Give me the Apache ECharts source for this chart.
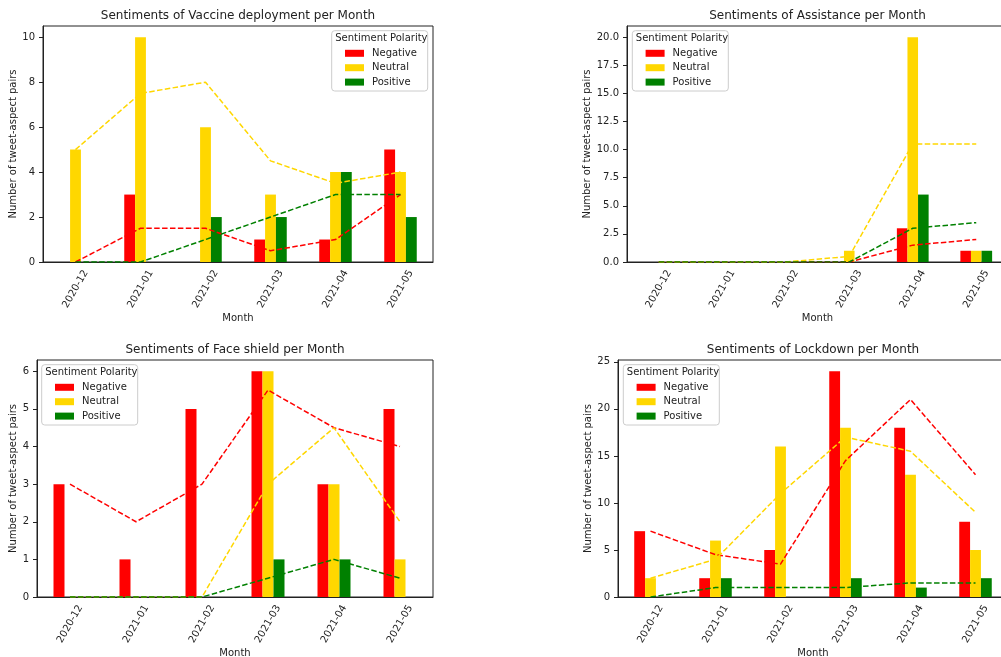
<!DOCTYPE html>
<html>
<head>
<meta charset="utf-8">
<script src="https://cdn.jsdelivr.net/npm/echarts@6/dist/echarts.min.js"></script>
<style>
  html, body { margin: 0; padding: 0; background: #fff; }
  #main { width: 1001px; height: 657px; }
</style>
</head>
<body>
<div id="main"></div>
<script>
// months on the x axis (shared by all four panels)
var months = ['2020-12', '2021-01', '2021-02', '2021-03', '2021-04', '2021-05'];

// Vaccine deployment
var vaccineNeg = [0, 3, 0, 1, 1, 5];
var vaccineNeu = [5, 10, 6, 3, 4, 4];
var vaccinePos = [0, 0, 2, 2, 4, 2];
var vaccineNegTrend = [0, 1.5, 1.5, 0.5, 1, 3];
var vaccineNeuTrend = [5, 7.5, 8, 4.5, 3.5, 4];
var vaccinePosTrend = [0, 0, 1, 2, 3, 3];
var vaccineTicks = [0, 2, 4, 6, 8, 10];

// Assistance
var assistNeg = [0, 0, 0, 0, 3, 1];
var assistNeu = [0, 0, 0, 1, 20, 1];
var assistPos = [0, 0, 0, 0, 6, 1];
var assistNegTrend = [0, 0, 0, 0, 1.5, 2];
var assistNeuTrend = [0, 0, 0, 0.5, 10.5, 10.5];
var assistPosTrend = [0, 0, 0, 0, 3, 3.5];
var assistTicks = [0, 2.5, 5, 7.5, 10, 12.5, 15, 17.5, 20];

// Face shield
var shieldNeg = [3, 1, 5, 6, 3, 5];
var shieldNeu = [0, 0, 0, 6, 3, 1];
var shieldPos = [0, 0, 0, 1, 1, 0];
var shieldNegTrend = [3, 2, 3, 5.5, 4.5, 4];
var shieldNeuTrend = [0, 0, 0, 3, 4.5, 2];
var shieldPosTrend = [0, 0, 0, 0.5, 1, 0.5];
var shieldTicks = [0, 1, 2, 3, 4, 5, 6];

// Lockdown
var lockNeg = [7, 2, 5, 24, 18, 8];
var lockNeu = [2, 6, 16, 18, 13, 5];
var lockPos = [0, 2, 0, 2, 1, 2];
var lockNegTrend = [7, 4.5, 3.5, 14.5, 21, 13];
var lockNeuTrend = [2, 4, 11, 17, 15.5, 9];
var lockPosTrend = [0, 1, 1, 1, 1.5, 1.5];
var lockTicks = [0, 5, 10, 15, 20, 25];

var colors = { Negative: '#ff0000', Neutral: '#ffd700', Positive: '#008000' };
var FONT = 'DejaVu Sans';

var panels = [
  { title: 'Sentiments of Vaccine deployment per Month', grid: { left: 43, top: 26, width: 390, height: 236 },
    max: 10.5, ticks: vaccineTicks, dec: 0, nameGap: 24,
    bars: [vaccineNeg, vaccineNeu, vaccinePos], trends: [vaccineNegTrend, vaccineNeuTrend, vaccinePosTrend],
    legendBox: [331.7, 30.7] },
  { title: 'Sentiments of Assistance per Month', grid: { left: 627, top: 26, width: 381, height: 236 },
    max: 21, ticks: assistTicks, dec: 1, nameGap: 33,
    bars: [assistNeg, assistNeu, assistPos], trends: [assistNegTrend, assistNeuTrend, assistPosTrend],
    legendBox: [632.3, 30.7] },
  { title: 'Sentiments of Face shield per Month', grid: { left: 37, top: 360, width: 396, height: 237 },
    max: 6.3, ticks: shieldTicks, dec: 0, nameGap: 18,
    bars: [shieldNeg, shieldNeu, shieldPos], trends: [shieldNegTrend, shieldNeuTrend, shieldPosTrend],
    legendBox: [41.7, 364.7] },
  { title: 'Sentiments of Lockdown per Month', grid: { left: 618, top: 360, width: 390, height: 237 },
    max: 25.2, ticks: lockTicks, dec: 0, nameGap: 24,
    bars: [lockNeg, lockNeu, lockPos], trends: [lockNegTrend, lockNeuTrend, lockPosTrend],
    legendBox: [623.3, 364.7] }
];

var names = ['Negative', 'Neutral', 'Positive'];
var grids = [], xAxes = [], yAxes = [], series = [], legends = [], graphics = [];

panels.forEach(function (p, i) {
  // right-hand panels run past the edge of the page, as in the original figure
  grids.push(Object.assign({ show: true, borderColor: '#222', borderWidth: 1, backgroundColor: 'transparent',
    outerBoundsMode: 'none', containLabel: false }, p.grid));

  xAxes.push({
    type: 'category', gridIndex: i, data: months, boundaryGap: true,
    name: 'Month', nameLocation: 'middle', nameGap: 49,
    nameTextStyle: { fontFamily: FONT, fontSize: 10, color: '#222' },
    axisLine: { lineStyle: { color: '#222', width: 1 } },
    axisTick: { alignWithLabel: true, length: 4, lineStyle: { color: '#222' } },
    axisLabel: { rotate: 60, align: 'center', verticalAlign: 'middle', margin: 27,
      fontFamily: FONT, fontSize: 10, color: '#222', interval: 0 },
    splitLine: { show: false }
  });

  yAxes.push({
    type: 'value', gridIndex: i, min: 0, max: p.max,
    name: 'Number of tweet-aspect pairs', nameLocation: 'middle', nameGap: p.nameGap,
    nameTextStyle: { fontFamily: FONT, fontSize: 10, color: '#222' },
    axisLine: { show: true, lineStyle: { color: '#222', width: 1 } },
    axisTick: { show: true, length: 4, customValues: p.ticks, lineStyle: { color: '#222' } },
    axisLabel: { customValues: p.ticks, fontFamily: FONT, fontSize: 10, color: '#222', margin: 8,
      formatter: function (v) { return v.toFixed(p.dec); } },
    splitLine: { show: false }
  });

  names.forEach(function (n, k) {
    series.push({
      name: n, type: 'bar', xAxisIndex: i, yAxisIndex: i,
      data: p.bars[k], barWidth: '16.67%', barGap: '0%',
      itemStyle: { color: colors[n] }, z: 2
    });
  });
  names.forEach(function (n, k) {
    series.push({
      name: n + ' trend', type: 'line', xAxisIndex: i, yAxisIndex: i,
      data: p.trends[k], symbol: 'none', silent: true,
      lineStyle: { color: colors[n], width: 1.5, type: [5.5, 2.4] }, z: 3
    });
  });

  var bx = p.legendBox[0], by = p.legendBox[1];
  legends.push({
    data: names, orient: 'vertical', left: bx + 13.3, top: by + 16.6, padding: 0,
    itemWidth: 19, itemHeight: 7, itemGap: 2.4, icon: 'rect', selectedMode: false,
    textStyle: { fontFamily: FONT, fontSize: 10, color: '#222', lineHeight: 12, padding: [0, 0, 0, 3] },
    z: 6
  });
  graphics.push({
    type: 'rect', z: 5,
    shape: { x: bx, y: by, width: 96, height: 60.3, r: 3 },
    style: { fill: 'rgba(255,255,255,0.8)', stroke: '#cccccc', lineWidth: 1 }
  });
  graphics.push({
    type: 'text', z: 7, x: bx + 3.5, y: by + 8,
    style: { text: 'Sentiment Polarity', fontFamily: FONT, fontSize: 10, fill: '#222',
      textAlign: 'left', textVerticalAlign: 'middle' }
  });
  graphics.push({
    type: 'text', z: 7, x: p.grid.left + p.grid.width / 2, y: p.grid.top - 10,
    style: { text: p.title, fontFamily: FONT, fontSize: 12, fill: '#222',
      textAlign: 'center', textVerticalAlign: 'middle' }
  });
});

var myChart = echarts.init(document.getElementById('main'));
myChart.setOption({
  animation: false,
  grid: grids,
  xAxis: xAxes,
  yAxis: yAxes,
  legend: legends,
  series: series,
  graphic: graphics
});
</script>
</body>
</html>
